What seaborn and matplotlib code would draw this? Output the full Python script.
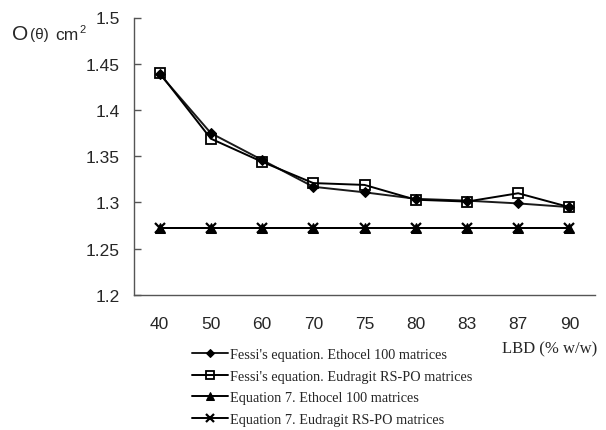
import matplotlib
matplotlib.use("Agg")
import matplotlib.pyplot as plt
import seaborn as sns
import pandas as pd
from matplotlib.ticker import FixedLocator

lbd = ["40", "50", "60", "70", "75", "80", "83", "87", "90"]
fessi_ethocel = [1.439, 1.375, 1.346, 1.317, 1.311, 1.304, 1.302, 1.299, 1.295]
fessi_eudragit = [1.440, 1.369, 1.344, 1.321, 1.319, 1.303, 1.301, 1.310, 1.295]
eq7_ethocel = [1.272] * 9
eq7_eudragit = [1.272] * 9

series = [
    ("Fessi's equation. Ethocel 100 matrices", fessi_ethocel,
     dict(marker="D", markersize=5.5, markerfacecolor="black", markeredgecolor="black", color="#1a1a1a")),
    ("Fessi's equation. Eudragit RS-PO matrices", fessi_eudragit,
     dict(marker="s", markersize=7.5, markerfacecolor="none", markeredgecolor="black", markeredgewidth=1.3, color="black")),
    ("Equation 7. Ethocel 100 matrices", eq7_ethocel,
     dict(marker="^", markersize=7, markerfacecolor="black", markeredgecolor="black", color="black")),
    ("Equation 7. Eudragit RS-PO matrices", eq7_eudragit,
     dict(marker="x", markersize=7, markeredgewidth=1.6, markeredgecolor="black", color="black")),
]

sns.set_style("white")
plt.rcParams["font.family"] = ["Liberation Sans", "DejaVu Sans"]

fig = plt.figure(figsize=(6.06, 4.31), dpi=100)
W, H = 606, 431
ax = fig.add_axes([134 / W, (H - 296) / H, (595 - 134) / W, (296 - 18.5) / H])

for label, vals, style in series:
    df = pd.DataFrame({"LBD": lbd, "val": vals})
    sns.lineplot(data=df, x="LBD", y="val", ax=ax, sort=False, label=label,
                 linewidth=1.4, **style)

ax.set_xlim(-0.5, 8.5)
ax.set_ylim(1.2, 1.5)
ax.set_yticks([1.2, 1.25, 1.3, 1.35, 1.4, 1.45, 1.5])
ax.set_yticklabels(["1.2", "1.25", "1.3", "1.35", "1.4", "1.45", "1.5"])
ax.set_xticks(range(9))
ax.set_xticklabels(lbd)
ax.xaxis.set_minor_locator(FixedLocator([i - 0.5 for i in range(10)]))
ax.tick_params(axis="x", which="major", length=0, pad=15, labelsize=12.5)
ax.tick_params(axis="x", which="minor", length=5, direction="in", color="#555555", width=1)
ax.tick_params(axis="y", which="major", length=5, direction="in", color="#555555", width=1,
               pad=10, labelsize=12.5, left=True)
ax.set_xlabel("")
ax.set_ylabel("")
for s in ["top", "right"]:
    ax.spines[s].set_visible(False)
for s in ["left", "bottom"]:
    ax.spines[s].set_color("#555555")
    ax.spines[s].set_linewidth(1)

# Y label pieces
fig.text(12 / W, (H - 39.5) / H, "O", fontsize=15, ha="left", va="baseline")
fig.text(30 / W, (H - 39.5) / H, "(θ)", fontsize=11, ha="left", va="baseline")
fig.text(55 / W, (H - 39.5) / H, "cm", fontsize=12.5, ha="left", va="baseline")
fig.text(79 / W, (H - 33) / H, "2", fontsize=8, ha="left", va="baseline")

fig.text(502 / W, (H - 353) / H, "LBD (% w/w)", fontsize=12, family=["Liberation Serif"],
         ha="left", va="baseline")

leg = ax.legend(loc="upper left", bbox_to_anchor=(192 / W, (H - 349) / H),
                bbox_transform=fig.transFigure, frameon=False, borderpad=0,
                borderaxespad=0, handlelength=2.55, handletextpad=0.1,
                labelspacing=0.6, markerscale=0.75,
                prop={"family": "Liberation Serif", "size": 10.3})

fig.savefig("out.png", dpi=100)
